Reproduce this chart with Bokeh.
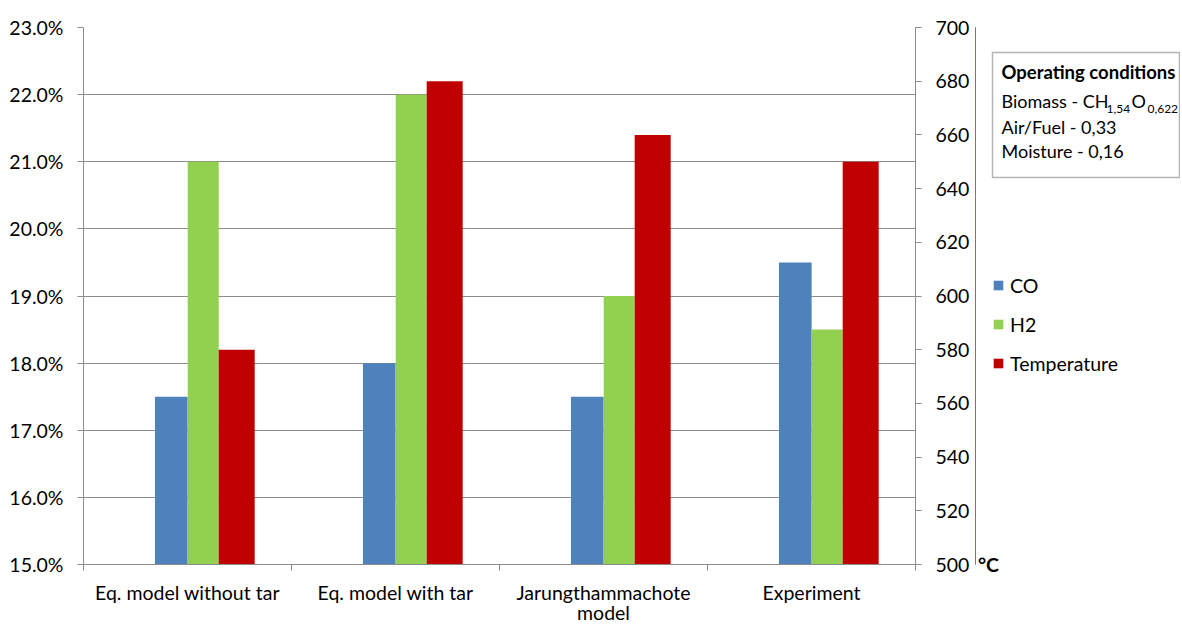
from bokeh.plotting import figure
from bokeh.layouts import row
from bokeh.models import (Range1d, LinearAxis, FixedTicker, PrintfTickFormatter,
                          Legend, LegendItem, ColumnDataSource)
from bokeh.transform import dodge
from bokeh.core.properties import value
from bokeh.embed import file_html
from bokeh.resources import INLINE

# ---- data ----
categories = [["Eq. model without tar"], ["Eq. model with tar"],
              ["Jarungthammachote", "model"], ["Experiment"]]
co = [17.5, 18.0, 17.5, 19.5]          # %
h2 = [21.0, 22.0, 19.0, 18.5]          # %
temperature = [580, 680, 660, 650]    # °C
left_ticks = [15, 16, 17, 18, 19, 20, 21, 22, 23]
right_ticks = [500, 520, 540, 560, 580, 600, 620, 640, 660, 680, 700]
series_names = ["CO", "H2", "Temperature"]
colors = ["#4f81bd", "#92d050", "#c00000"]
unit = "°C"
box_title = "Operating  conditions"
box_lines = ["Air/Fuel - 0,33", "Moisture - 0,16"]

FONT = "Lato"
FS = "19.5px"
GRID = "#8c8c8c"

FL, FR, FT, FB = 83, 915, 27, 564
MAIN_W, H = 975, 626

p = figure(width=MAIN_W, height=H, x_range=Range1d(0, 4), y_range=Range1d(15, 23),
           output_backend="svg", toolbar_location=None,
           min_border_left=FL, min_border_right=MAIN_W - FR,
           min_border_top=FT, min_border_bottom=H - FB)
p.extra_y_ranges = {"temp": Range1d(500, 700)}
p.outline_line_color = None

src = ColumnDataSource(dict(x=[i + 0.5 for i in range(len(categories))],
                            co=co, h2=h2, temp=temperature))

r_co = p.vbar(x=dodge("x", -0.078, range=p.x_range), top="co", bottom=15, width=0.157,
              source=src, fill_color=colors[0], line_color=None)
r_h2 = p.vbar(x=dodge("x", 0.0755, range=p.x_range), top="h2", bottom=15, width=0.149,
              source=src, fill_color=colors[1], line_color=None)
r_t = p.vbar(x=dodge("x", 0.2365, range=p.x_range), top="temp", bottom=500, width=0.173,
             source=src, fill_color=colors[2], line_color=None, y_range_name="temp")


def style_labels(ax, size=FS):
    ax.major_label_text_font = FONT
    ax.major_label_text_font_size = size
    ax.major_label_text_color = "black"


def no_ticks(ax):
    ax.axis_line_color = None
    ax.major_tick_line_color = None
    ax.minor_tick_line_color = None
    ax.major_tick_out = 0
    ax.major_tick_in = 0
    ax.minor_tick_out = 0
    ax.minor_tick_in = 0


# x axis (first label line)
xa = p.xaxis[0]
xa.ticker = FixedTicker(ticks=[i + 0.5 for i in range(len(categories))],
                        minor_ticks=list(range(len(categories) + 1)))
xa.major_label_overrides = {i + 0.5: c[0] for i, c in enumerate(categories)}
xa.major_tick_out = 0
xa.major_tick_in = 0
xa.minor_tick_out = 6
xa.minor_tick_in = 0
xa.minor_tick_line_color = GRID
xa.axis_line_color = GRID
xa.major_label_standoff = 10
style_labels(xa)

# second label line
xa2 = LinearAxis(ticker=FixedTicker(ticks=[i + 0.5 for i, c in enumerate(categories) if len(c) > 1],
                                    minor_ticks=[]))
xa2.major_label_overrides = {i + 0.5: c[1] for i, c in enumerate(categories) if len(c) > 1}
no_ticks(xa2)
xa2.major_label_standoff = -6
style_labels(xa2)
p.add_layout(xa2, "below")

# left axis
ya = p.yaxis[0]
ya.ticker = FixedTicker(ticks=left_ticks, minor_ticks=[])
ya.formatter = PrintfTickFormatter(format="%.1f%%")
ya.major_tick_out = 6
ya.major_tick_in = 0
ya.minor_tick_out = 0
ya.minor_tick_in = 0
ya.major_tick_line_color = GRID
ya.axis_line_color = GRID
ya.major_label_standoff = 14
style_labels(ya)

# right axis
ra = LinearAxis(y_range_name="temp", ticker=FixedTicker(ticks=right_ticks, minor_ticks=[]))
ra.major_tick_out = 6
ra.major_tick_in = 0
ra.minor_tick_out = 0
ra.minor_tick_in = 0
ra.major_tick_line_color = GRID
ra.axis_line_color = GRID
ra.major_label_standoff = 14
style_labels(ra)
p.add_layout(ra, "right")

p.xgrid.visible = False
p.ygrid.ticker = FixedTicker(ticks=left_ticks, minor_ticks=[])
p.ygrid.grid_line_color = GRID
p.ygrid.grid_line_width = 1

# ---- side panel: unit, legend, operating-conditions box (page pixel coordinates) ----
SIDE_W = 1180 - MAIN_W
q = figure(width=SIDE_W, height=H, x_range=Range1d(MAIN_W, MAIN_W + SIDE_W),
           y_range=Range1d(FB, FT), output_backend="svg", toolbar_location=None,
           x_axis_location=None, y_axis_location=None,
           min_border_left=0, min_border_right=0, min_border_top=FT, min_border_bottom=H - FB)
q.grid.visible = False
q.outline_line_color = None

# unit label under the right axis
ua = LinearAxis(ticker=FixedTicker(ticks=[988], minor_ticks=[]))
ua.major_label_overrides = {988: unit}
no_ticks(ua)
ua.major_label_standoff = -12
style_labels(ua)
ua.major_label_text_font_style = "bold"
q.add_layout(ua, "below")

# legend (series drawn off-range here, only their swatches show in the legend)
dummies = [q.vbar(x="x", top=col, bottom=0, width=0.1, source=src, fill_color=c, line_color=None)
           for col, c in zip(["co", "h2", "temp"], colors)]
legend = Legend(items=[LegendItem(label=n, renderers=[r]) for n, r in zip(series_names, dummies)],
                location=(992 - MAIN_W, FB - 375),
                glyph_width=12, glyph_height=12, label_standoff=6,
                label_height=24, spacing=15, padding=0, margin=0,
                border_line_color=None, background_fill_alpha=0,
                label_text_font=FONT, label_text_font_size=FS, label_text_color="black")
q.add_layout(legend)

q.quad(left=[992], right=[1179], top=[52], bottom=[177], fill_color="white",
       line_color="#b4b4b4", line_width=1.5)

BFS = "18px"
common = dict(text_font=value(FONT), text_color="black", text_baseline="middle")
q.text(x=[1001], y=[71], text=[box_title], text_font_size=value("18.5px"),
       text_font_style="bold", **common)
q.text(x=[1001, 1131], y=[100, 100], text=["Biomass - CH", "O"], text_font_size=value(BFS), **common)
q.text(x=[1106, 1147], y=[108.5, 108.5], text=["1,54", "0,622"], text_font_size=value("12px"), **common)
q.text(x=[1001, 1001], y=[126.5, 150.5], text=box_lines, text_font_size=value(BFS), **common)

layout = row(p, q, spacing=0)
open("out.html", "w").write(file_html(layout, INLINE))
